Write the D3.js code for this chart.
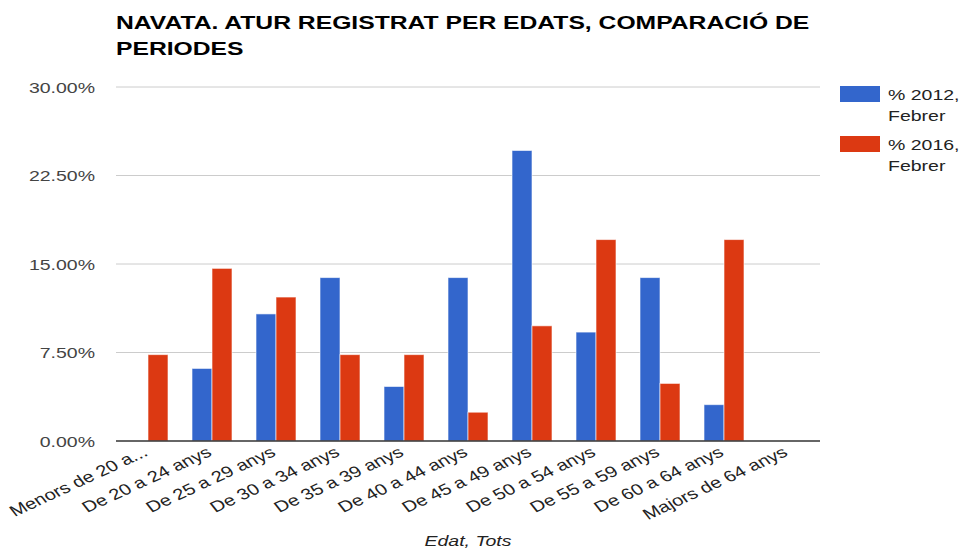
<!DOCTYPE html>
<html>
<head>
<meta charset="utf-8">
<script src="https://cdn.jsdelivr.net/npm/d3@7"></script>
<style>
body { margin: 0; background: #fff; }
text { font-family: Arial, "Liberation Sans", sans-serif; }
</style>
</head>
<body>
<div id="chart"></div>
<script>
var categories = ["Menors de 20 a...", "De 20 a 24 anys", "De 25 a 29 anys", "De 30 a 34 anys",
  "De 35 a 39 anys", "De 40 a 44 anys", "De 45 a 49 anys", "De 50 a 54 anys",
  "De 55 a 59 anys", "De 60 a 64 anys", "Majors de 64 anys"];
var seriesNames = ["% 2012, Febrer", "% 2016, Febrer"];
var values2012 = [0, 6.15, 10.77, 13.85, 4.62, 13.85, 24.62, 9.23, 13.85, 3.08, 0];
var values2016 = [7.32, 14.63, 12.20, 7.32, 7.32, 2.44, 9.76, 17.07, 4.88, 17.07, 0];
var yTicks = [0, 7.5, 15, 22.5, 30];
var colors = ["#3366cc", "#dc3912"];

var sx = 1.3; // text in the original is drawn wide

var margin = {top: 87, right: 140, bottom: 109, left: 116},
    width = 960 - margin.left - margin.right,
    height = 550 - margin.top - margin.bottom;

var svg = d3.select("#chart").append("svg")
    .attr("width", 960)
    .attr("height", 550);

var g = svg.append("g")
    .attr("transform", "translate(" + margin.left + "," + margin.top + ")");

var x = d3.scaleBand().domain(categories).range([0, width]).paddingInner(0.375).paddingOuter(0.1875);
var x1 = d3.scaleBand().domain([0, 1]).range([0, x.bandwidth()]);
var y = d3.scaleLinear().domain([0, 30]).range([height, 0]);

function wide(px, py, extra) {
  return "translate(" + px + "," + py + ") scale(" + sx + ",1)" + (extra || "");
}

// title
svg.append("text")
    .attr("transform", wide(116, 29))
    .style("font-size", "19px")
    .style("font-weight", "bold")
    .style("fill", "#000")
    .text("NAVATA. ATUR REGISTRAT PER EDATS, COMPARACIÓ DE");
svg.append("text")
    .attr("transform", wide(116, 55))
    .style("font-size", "19px")
    .style("font-weight", "bold")
    .style("fill", "#000")
    .text("PERIODES");

// grid
g.selectAll(".grid")
    .data(yTicks.slice(1))
    .enter().append("line")
    .attr("x1", 0).attr("x2", width)
    .attr("y1", function(d) { return y(d); })
    .attr("y2", function(d) { return y(d); })
    .style("stroke", "#cccccc")
    .style("stroke-width", 1);

// y labels
g.selectAll(".ylab")
    .data(yTicks)
    .enter().append("text")
    .attr("transform", function(d) { return wide(-21, y(d) + 5.5); })
    .attr("text-anchor", "end")
    .style("font-size", "15px")
    .style("fill", "#444")
    .text(function(d) { return d.toFixed(2) + "%"; });

// bars
var series = [values2012, values2016];
series.forEach(function(vals, s) {
  g.selectAll(".bar" + s)
    .data(vals)
    .enter().append("rect")
    .attr("x", function(d, i) { return x(categories[i]) + x1(s); })
    .attr("y", function(d) { return y(d); })
    .attr("width", x1.bandwidth())
    .attr("height", function(d) { return height - y(d); })
    .style("fill", colors[s])
    .style("stroke", "#ffffff")
    .style("stroke-opacity", 0.6)
    .style("stroke-width", 1)
    .style("display", function(d) { return d > 0 ? null : "none"; });
});

// baseline
g.append("line")
    .attr("x1", 0).attr("x2", width)
    .attr("y1", height).attr("y2", height)
    .style("stroke", "#333")
    .style("stroke-width", 1.5);

// x labels
g.selectAll(".xlab")
    .data(categories)
    .enter().append("text")
    .attr("text-anchor", "end")
    .attr("transform", function(d) {
      return wide(x(d) + x.bandwidth() / 2 + 1, height + 14, " rotate(-31)");
    })
    .style("font-size", "15.5px")
    .style("fill", "#222")
    .text(function(d) { return d; });

// axis title
svg.append("text")
    .attr("transform", wide(468, 546))
    .attr("text-anchor", "middle")
    .style("font-size", "15px")
    .style("font-style", "italic")
    .style("fill", "#222")
    .text("Edat, Tots");

// legend
var legend = svg.append("g").attr("transform", "translate(840,86)");
seriesNames.forEach(function(name, i) {
  var lg = legend.append("g").attr("transform", "translate(0," + (i * 50) + ")");
  lg.append("rect")
    .attr("width", 40).attr("height", 16)
    .style("fill", colors[i]);
  var parts = name.split(" ");
  lg.append("text")
    .attr("transform", wide(48, 13.5))
    .style("font-size", "15px")
    .style("fill", "#222")
    .text(parts[0] + " " + parts[1]);
  lg.append("text")
    .attr("transform", wide(48, 35))
    .style("font-size", "15px")
    .style("fill", "#222")
    .text(parts[2]);
});
</script>
</body>
</html>
